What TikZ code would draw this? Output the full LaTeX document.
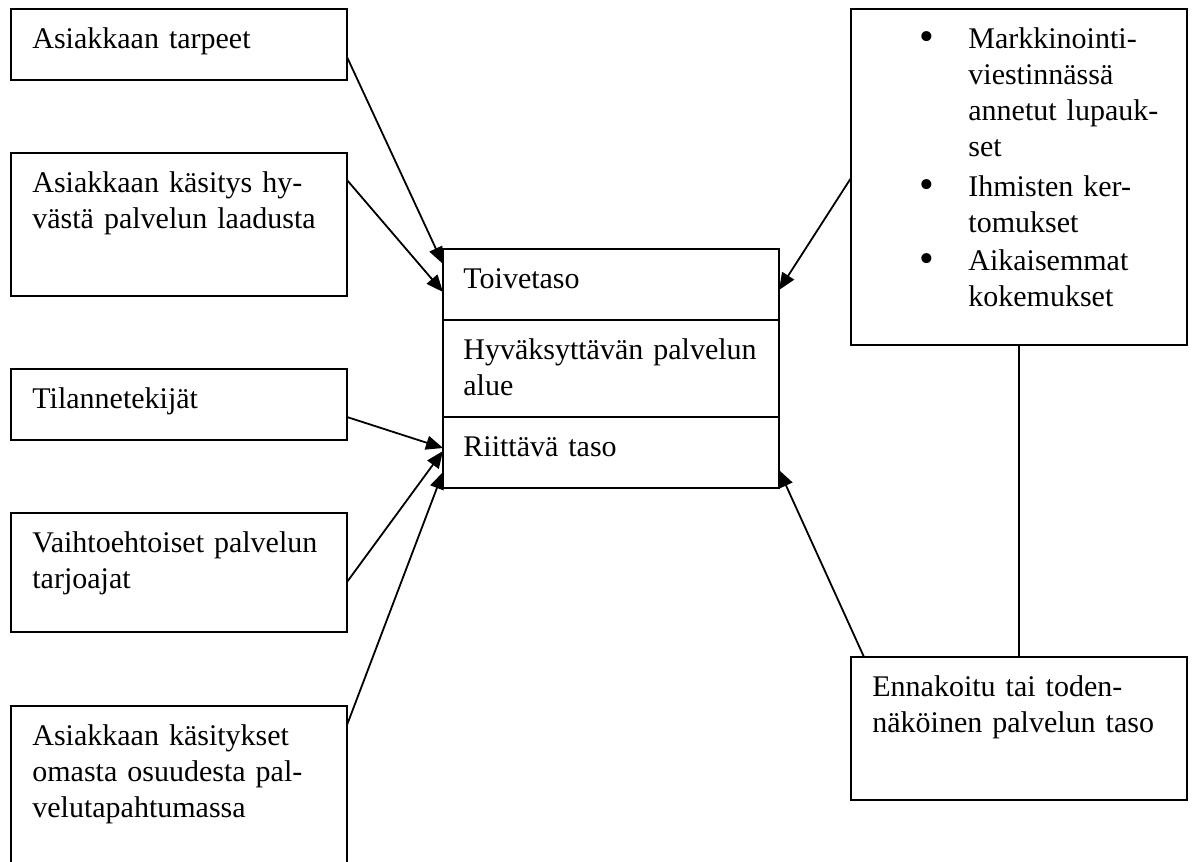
\documentclass[tikz,border=0pt]{standalone}
\usepackage{fontspec}
\setmainfont{Liberation Serif}
\usetikzlibrary{arrows.meta}
\begin{document}
\begin{tikzpicture}[x=0.5pt,y=-0.5pt,
  box/.style={draw, line width=1.1pt, rectangle, inner sep=0pt, outer sep=0pt, anchor=north west, minimum width=168pt},
  lbl/.style={anchor=base west, inner sep=0pt, text width=200pt, align=left, font=\fontsize{15}{18}\selectfont},
  bul/.style={anchor=base, inner sep=0pt, font=\fontsize{21}{18}\selectfont},
  arr/.style={line width=0.9pt, -{Triangle[length=8.5pt,width=7pt]}},
  ln/.style={line width=1pt}]
\useasboundingbox (0,0) rectangle (1194,862);
\clip (0,0) rectangle (1194,862);
% left boxes
\node[box, minimum height=35.5pt] (b1) at (11,9) {};
\node[box, minimum height=71.5pt] (b2) at (11,153) {};
\node[box, minimum height=35.5pt] (b3) at (11,369) {};
\node[box, minimum height=59.5pt] (b4) at (11,513) {};
\node[box, minimum height=90pt] (b5) at (11,706) {};
% centre box
\node[box, minimum height=119.5pt] (c) at (443,249) {};
% right boxes
\node[box, minimum height=168pt] (r1) at (851,9) {};
\node[box, minimum height=71.5pt] (r2) at (851,657) {};
% texts
\node[lbl] (t1) at (32,48) {Asiakkaan tarpeet};
\node[lbl] (t2) at (32,192) {Asiakkaan käsitys hy-\\västä palvelun laadusta};
\node[lbl] (t3) at (32,408) {Tilannetekijät};
\node[lbl] (t4) at (32,552) {Vaihtoehtoiset palvelun\\tarjoajat};
\node[lbl] (t5) at (32,745) {Asiakkaan käsitykset\\omasta osuudesta pal-\\velutapahtumassa};
\node[lbl] (tc1) at (463,288) {Toivetaso};
\node[lbl] (tc2) at (463,359) {Hyväksyttävän palvelun\\alue};
\node[lbl] (tc3) at (463,456) {Riittävä taso};
\node[lbl] (tr2) at (872,696) {Ennakoitu tai toden-\\näköinen palvelun taso};
\node[bul] (u1) at (927,50) {•};
\node[lbl] (tr1a) at (968,48) {Markkinointi-\\viestinnässä\\annetut lupauk-\\set};
\node[bul] (u2) at (927,198) {•};
\node[lbl] (tr1b) at (968,196) {Ihmisten ker-\\tomukset};
\node[bul] (u3) at (927,272) {•};
\node[lbl] (tr1c) at (968,270) {Aikaisemmat\\kokemukset};
% dividers in centre box
\draw[ln] ([yshift=-35.5pt]c.north west) -- ([yshift=-35.5pt]c.north east);
\draw[ln] ([yshift=-84pt]c.north west) -- ([yshift=-84pt]c.north east);
% connectors
\draw[arr] ([yshift=-24pt]b1.north east) -- ([yshift=-7.5pt]c.north west);
\draw[arr] ([yshift=-13.5pt]b2.north east) -- ([yshift=-21.5pt]c.north west);
\draw[arr] ([yshift=-84.5pt]r1.north west) -- ([yshift=-20.5pt]c.north east);
\draw[arr] ([yshift=-24pt]b3.north east) -- ([yshift=-99.5pt]c.north west);
\draw[arr] ([yshift=-34.5pt]b4.north east) -- ([yshift=-101pt]c.north west);
\draw[arr] ([yshift=-9.5pt]b5.north east) -- ([yshift=-111.5pt]c.north west);
\draw[arr] ([xshift=6.5pt]r2.north west) -- ([yshift=-110.5pt]c.north east);
\draw[ln] (r1.south) -- (r2.north);
\end{tikzpicture}
\end{document}
